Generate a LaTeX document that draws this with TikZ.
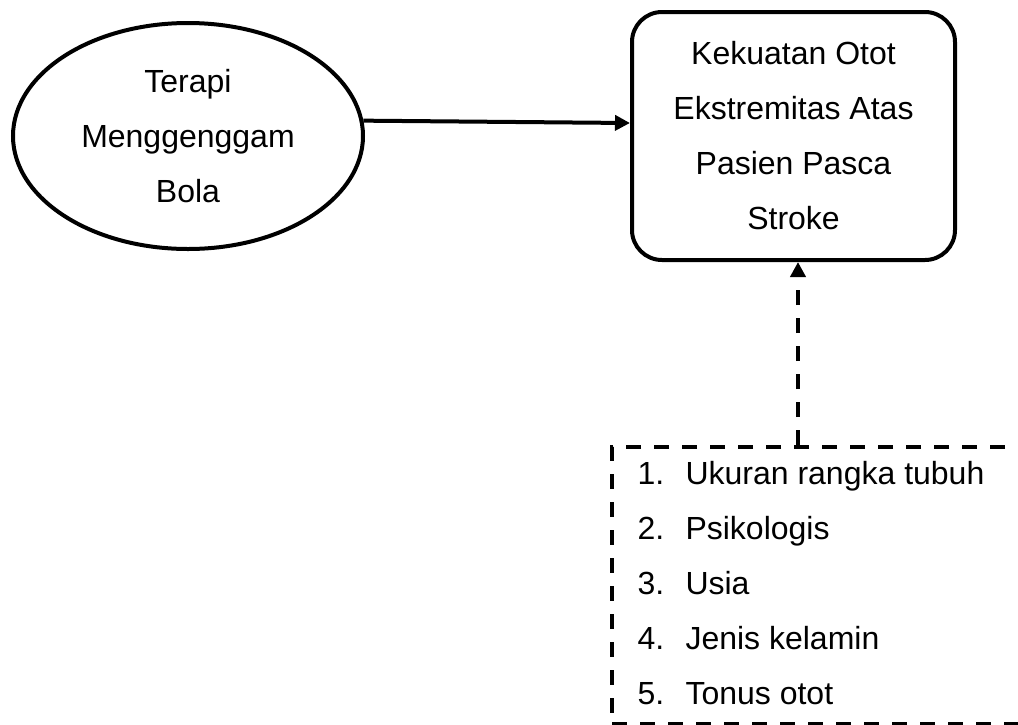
\documentclass[tikz,border=0pt]{standalone}
\usepackage{fontspec}
\setmainfont{Liberation Sans}
\usetikzlibrary{arrows.meta}
\usetikzlibrary{shapes.geometric}
\tikzset{
every node/.style={font=\fontsize{32}{55}\selectfont},
ovalnode/.style={ellipse, draw, line width=4pt, minimum width=350pt, minimum height=226pt, align=center, inner sep=0pt},
roundbox/.style={rectangle, draw, line width=4pt, rounded corners=30pt, minimum width=323pt, minimum height=248pt, align=center},
dashbox/.style={rectangle, draw, line width=4pt, dash pattern=on 15pt off 13pt, minimum width=450pt, minimum height=277pt},
link/.style={line width=4pt, -{Triangle[length=15pt,width=15pt]}},
dashlink/.style={link, dash pattern=on 15pt off 13pt}
}

\begin{document}
\begin{tikzpicture}[x=1pt,y=-1pt]
\useasboundingbox (0,0) rectangle (1018,724);
\clip (0,0) rectangle (1018,724);

\node[ovalnode] (terapi) at (188,136) {Terapi\\Menggenggam\\Bola};
\node[roundbox] (kekuatan) at (793.5,136) {Kekuatan Otot\\Ekstremitas Atas\\Pasien Pasca\\Stroke};
\node[dashbox, anchor=north west] (faktor) at (610,445) {};
\node[anchor=base west] (daftar) at (634,484) {\begin{tabular}[t]{@{}l@{}}
\makebox[48pt][l]{1.}Ukuran rangka tubuh\\
\makebox[48pt][l]{2.}Psikologis\\
\makebox[48pt][l]{3.}Usia\\
\makebox[48pt][l]{4.}Jenis kelamin\\
\makebox[48pt][l]{5.}Tonus otot
\end{tabular}};

\coordinate (sambung) at (798,445);
\draw[link] (terapi.5) -- ([yshift=13pt]kekuatan.west);
\draw[dashlink] (sambung) -- (sambung |- kekuatan.south);
\end{tikzpicture}
\end{document}
